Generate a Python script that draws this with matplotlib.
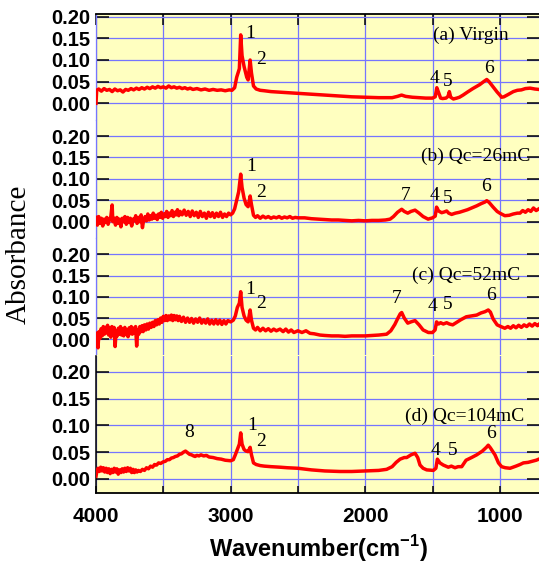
"""
Stacked FTIR absorbance spectra, virgin sample and three charge levels
"""
import numpy as np
import matplotlib
matplotlib.use("Agg")
import matplotlib.pyplot as plt
import matplotlib.ticker as plticker

# (wavenumber cm^-1, absorbance)
SPEC_A = [
    (4000, 0.000), (3995, 0.030), (3980, 0.033), (3960, 0.028), (3940, 0.034), (3920, 0.030),
    (3900, 0.032), (3880, 0.027), (3860, 0.033), (3840, 0.029), (3820, 0.031), (3800, 0.026),
    (3780, 0.032), (3760, 0.030), (3740, 0.034), (3720, 0.031), (3700, 0.035), (3680, 0.032),
    (3660, 0.036), (3640, 0.033), (3620, 0.037), (3600, 0.034), (3580, 0.038), (3560, 0.035),
    (3540, 0.039), (3520, 0.036), (3500, 0.038), (3480, 0.035), (3460, 0.040), (3440, 0.036),
    (3420, 0.038), (3400, 0.035), (3380, 0.037), (3360, 0.034), (3340, 0.036), (3320, 0.033),
    (3300, 0.035), (3280, 0.032), (3250, 0.034), (3220, 0.031), (3190, 0.033), (3160, 0.030),
    (3130, 0.032), (3100, 0.030), (3070, 0.031), (3040, 0.029), (3010, 0.031), (2990, 0.030),
    (2970, 0.036), (2955, 0.060), (2935, 0.080), (2925, 0.158), (2915, 0.110), (2900, 0.085),
    (2880, 0.060), (2870, 0.054), (2855, 0.100), (2845, 0.070), (2830, 0.040), (2810, 0.033),
    (2780, 0.030), (2750, 0.029), (2700, 0.027), (2650, 0.026), (2600, 0.025), (2550, 0.024),
    (2500, 0.023), (2400, 0.021), (2300, 0.019), (2200, 0.017), (2100, 0.015), (2000, 0.014),
    (1900, 0.013), (1800, 0.013), (1760, 0.016), (1730, 0.019), (1700, 0.016), (1650, 0.014),
    (1600, 0.013), (1550, 0.012), (1500, 0.012), (1480, 0.015), (1468, 0.036), (1455, 0.025),
    (1440, 0.012), (1425, 0.011), (1400, 0.012), (1385, 0.016), (1375, 0.027), (1365, 0.014),
    (1345, 0.010), (1320, 0.012), (1300, 0.014), (1273, 0.019), (1240, 0.026), (1200, 0.034),
    (1150, 0.043), (1120, 0.050), (1097, 0.055), (1080, 0.050), (1050, 0.038), (1020, 0.026),
    (1000, 0.019), (987, 0.014), (970, 0.015), (940, 0.020), (900, 0.027), (870, 0.030),
    (840, 0.031), (810, 0.034), (775, 0.035), (740, 0.033), (710, 0.032),
]

SPEC_B = [
    (4000, 0.010), (3990, -0.008), (3980, 0.012), (3970, -0.004), (3960, 0.008), (3950, -0.010),
    (3940, 0.006), (3930, -0.002), (3920, 0.010), (3910, -0.006), (3900, 0.004), (3890, 0.012),
    (3880, 0.039), (3875, 0.000), (3865, 0.008), (3855, -0.008), (3845, 0.010), (3835, -0.004),
    (3825, 0.006), (3815, -0.012), (3805, 0.008), (3795, 0.000), (3785, 0.012), (3775, -0.006),
    (3765, 0.010), (3755, -0.002), (3745, 0.008), (3735, -0.010), (3725, 0.006), (3715, 0.002),
    (3705, 0.014), (3695, -0.004), (3685, 0.010), (3675, 0.000), (3665, 0.016), (3655, -0.014),
    (3645, 0.006), (3635, 0.012), (3625, 0.002), (3615, 0.018), (3605, 0.004), (3595, 0.014),
    (3585, 0.006), (3575, 0.020), (3565, 0.008), (3555, 0.015), (3545, 0.005), (3535, 0.018),
    (3525, 0.010), (3515, 0.022), (3505, 0.008), (3495, 0.018), (3485, 0.012), (3475, 0.024),
    (3465, 0.010), (3455, 0.020), (3445, 0.014), (3435, 0.026), (3425, 0.012), (3415, 0.022),
    (3405, 0.016), (3395, 0.028), (3385, 0.014), (3375, 0.024), (3360, 0.016), (3345, 0.027),
    (3330, 0.015), (3315, 0.024), (3300, 0.012), (3285, 0.025), (3270, 0.014), (3255, 0.022),
    (3240, 0.010), (3225, 0.024), (3210, 0.012), (3195, 0.020), (3180, 0.008), (3165, 0.022),
    (3150, 0.012), (3135, 0.021), (3120, 0.010), (3105, 0.020), (3090, 0.012), (3075, 0.022),
    (3060, 0.010), (3045, 0.018), (3030, 0.012), (3015, 0.020), (3000, 0.016), (2985, 0.020),
    (2970, 0.030), (2955, 0.050), (2940, 0.070), (2925, 0.111), (2915, 0.080), (2900, 0.055),
    (2885, 0.040), (2870, 0.035), (2855, 0.060), (2845, 0.040), (2830, 0.015), (2815, 0.010),
    (2800, 0.014), (2780, 0.008), (2760, 0.013), (2740, 0.009), (2720, 0.012), (2700, 0.008),
    (2680, 0.011), (2660, 0.009), (2640, 0.012), (2620, 0.008), (2600, 0.011), (2580, 0.009),
    (2560, 0.012), (2540, 0.008), (2520, 0.010), (2500, 0.009), (2450, 0.009), (2400, 0.007),
    (2350, 0.006), (2300, 0.005), (2250, 0.004), (2200, 0.004), (2150, 0.003), (2100, 0.002),
    (2050, 0.003), (2000, 0.002), (1950, 0.003), (1900, 0.003), (1850, 0.004), (1815, 0.006),
    (1790, 0.012), (1760, 0.022), (1729, 0.029), (1710, 0.024), (1684, 0.020), (1660, 0.024),
    (1630, 0.027), (1600, 0.020), (1570, 0.012), (1533, 0.006), (1500, 0.009), (1480, 0.013),
    (1470, 0.034), (1455, 0.025), (1432, 0.021), (1410, 0.023), (1395, 0.025), (1380, 0.020),
    (1358, 0.017), (1330, 0.020), (1300, 0.022), (1271, 0.025), (1240, 0.028), (1210, 0.032),
    (1172, 0.037), (1140, 0.042), (1110, 0.046), (1097, 0.049), (1080, 0.045), (1050, 0.034),
    (1020, 0.024), (1000, 0.020), (963, 0.014), (930, 0.015), (900, 0.018), (870, 0.020),
    (850, 0.020), (830, 0.026), (810, 0.022), (790, 0.028), (770, 0.024), (750, 0.032),
    (730, 0.026), (710, 0.030),
]

SPEC_C = [
    (4000, 0.005), (3992, 0.015), (3985, -0.020), (3978, 0.018), (3970, 0.002), (3962, 0.025),
    (3954, 0.008), (3946, 0.030), (3938, 0.012), (3930, 0.028), (3922, 0.015), (3914, 0.033),
    (3906, 0.010), (3898, 0.026), (3890, 0.005), (3882, 0.030), (3874, 0.014), (3866, 0.028),
    (3858, -0.017), (3850, 0.020), (3842, 0.008), (3834, 0.026), (3826, 0.012), (3818, 0.030),
    (3810, 0.010), (3802, 0.024), (3794, 0.008), (3786, 0.028), (3778, 0.012), (3770, 0.022),
    (3762, 0.006), (3754, 0.027), (3746, 0.013), (3738, 0.030), (3730, 0.012), (3722, 0.026),
    (3714, 0.015), (3706, 0.030), (3698, -0.016), (3690, 0.022), (3682, 0.012), (3674, 0.030),
    (3666, 0.018), (3658, 0.032), (3650, 0.018), (3640, 0.034), (3630, 0.022), (3620, 0.036),
    (3610, 0.024), (3600, 0.038), (3590, 0.028), (3580, 0.040), (3570, 0.030), (3560, 0.044),
    (3550, 0.034), (3540, 0.046), (3530, 0.036), (3520, 0.050), (3510, 0.040), (3500, 0.054),
    (3490, 0.044), (3480, 0.056), (3470, 0.044), (3460, 0.055), (3450, 0.046), (3440, 0.057),
    (3430, 0.044), (3420, 0.056), (3410, 0.046), (3400, 0.055), (3390, 0.044), (3380, 0.054),
    (3365, 0.042), (3350, 0.052), (3335, 0.040), (3320, 0.050), (3305, 0.040), (3290, 0.049),
    (3275, 0.038), (3260, 0.048), (3245, 0.040), (3230, 0.050), (3215, 0.038), (3200, 0.046),
    (3185, 0.038), (3170, 0.048), (3155, 0.036), (3140, 0.045), (3125, 0.036), (3110, 0.046),
    (3095, 0.036), (3080, 0.045), (3065, 0.035), (3050, 0.044), (3035, 0.036), (3020, 0.044),
    (3000, 0.041), (2980, 0.045), (2965, 0.055), (2950, 0.075), (2935, 0.085), (2925, 0.112),
    (2915, 0.075), (2900, 0.055), (2885, 0.045), (2870, 0.041), (2855, 0.069), (2845, 0.045),
    (2830, 0.026), (2815, 0.022), (2800, 0.028), (2780, 0.020), (2760, 0.026), (2740, 0.020),
    (2720, 0.025), (2700, 0.019), (2680, 0.024), (2660, 0.020), (2633, 0.024), (2610, 0.018),
    (2590, 0.024), (2570, 0.017), (2550, 0.022), (2530, 0.016), (2500, 0.020), (2470, 0.016),
    (2440, 0.020), (2410, 0.014), (2380, 0.013), (2336, 0.010), (2300, 0.009), (2250, 0.008),
    (2200, 0.008), (2150, 0.007), (2100, 0.008), (2050, 0.008), (2000, 0.008), (1950, 0.009),
    (1900, 0.010), (1841, 0.012), (1810, 0.020), (1780, 0.035), (1760, 0.048), (1740, 0.060),
    (1729, 0.063), (1710, 0.050), (1684, 0.038), (1660, 0.041), (1630, 0.044), (1600, 0.034),
    (1570, 0.022), (1531, 0.016), (1500, 0.016), (1481, 0.022), (1470, 0.041), (1455, 0.036),
    (1440, 0.039), (1420, 0.036), (1395, 0.039), (1375, 0.036), (1350, 0.034), (1320, 0.040),
    (1290, 0.046), (1249, 0.053), (1210, 0.055), (1172, 0.057), (1140, 0.062), (1110, 0.065),
    (1086, 0.069), (1070, 0.064), (1050, 0.048), (1020, 0.034), (1000, 0.031), (963, 0.026),
    (940, 0.030), (920, 0.026), (900, 0.032), (880, 0.027), (860, 0.033), (840, 0.028),
    (820, 0.034), (800, 0.030), (780, 0.036), (760, 0.031), (740, 0.037), (720, 0.032),
    (710, 0.035),
]

SPEC_D = [
    (4000, 0.005), (3995, 0.012), (3985, 0.020), (3975, 0.014), (3965, 0.022), (3955, 0.015),
    (3945, 0.021), (3935, 0.013), (3925, 0.020), (3915, 0.012), (3905, 0.019), (3895, 0.010),
    (3885, 0.018), (3875, 0.012), (3865, 0.020), (3855, 0.013), (3845, 0.019), (3835, 0.009),
    (3825, 0.017), (3815, 0.012), (3805, 0.019), (3795, 0.013), (3785, 0.020), (3775, 0.014),
    (3765, 0.021), (3755, 0.015), (3745, 0.020), (3735, 0.012), (3725, 0.018), (3715, 0.012),
    (3705, 0.017), (3695, 0.013), (3685, 0.016), (3670, 0.014), (3655, 0.018), (3640, 0.016),
    (3625, 0.021), (3610, 0.019), (3595, 0.024), (3580, 0.022), (3565, 0.027), (3550, 0.026),
    (3535, 0.030), (3520, 0.029), (3500, 0.032), (3485, 0.033), (3470, 0.036), (3455, 0.036),
    (3440, 0.039), (3425, 0.040), (3410, 0.042), (3395, 0.043), (3380, 0.046), (3365, 0.047),
    (3350, 0.050), (3335, 0.052), (3320, 0.049), (3305, 0.046), (3290, 0.045), (3275, 0.043),
    (3264, 0.042), (3250, 0.044), (3235, 0.043), (3220, 0.045), (3200, 0.043), (3180, 0.044),
    (3160, 0.041), (3130, 0.040), (3100, 0.038), (3070, 0.037), (3040, 0.035), (3000, 0.034),
    (2980, 0.036), (2965, 0.045), (2950, 0.055), (2935, 0.065), (2925, 0.086), (2915, 0.065),
    (2900, 0.055), (2885, 0.052), (2870, 0.051), (2855, 0.059), (2845, 0.045), (2830, 0.030),
    (2810, 0.027), (2780, 0.025), (2750, 0.024), (2700, 0.023), (2633, 0.022), (2580, 0.021),
    (2500, 0.020), (2400, 0.017), (2300, 0.015), (2187, 0.014), (2100, 0.014), (2000, 0.015),
    (1900, 0.016), (1841, 0.018), (1800, 0.023), (1770, 0.031), (1741, 0.037), (1710, 0.040),
    (1692, 0.040), (1660, 0.045), (1630, 0.048), (1610, 0.040), (1593, 0.026), (1570, 0.020),
    (1543, 0.017), (1494, 0.016), (1475, 0.020), (1464, 0.037), (1445, 0.030), (1420, 0.026),
    (1383, 0.022), (1360, 0.024), (1333, 0.021), (1310, 0.023), (1283, 0.023), (1251, 0.035),
    (1210, 0.040), (1172, 0.045), (1130, 0.052), (1100, 0.059), (1086, 0.063), (1070, 0.058),
    (1036, 0.045), (1010, 0.030), (987, 0.023), (960, 0.021), (924, 0.020), (880, 0.024),
    (850, 0.027), (825, 0.030), (790, 0.031), (760, 0.033), (730, 0.035), (710, 0.037),
]

SPECTRA = [SPEC_A, SPEC_B, SPEC_C, SPEC_D]
SAMPLE_NAMES = ["(a) Virgin", "(b) Qc=26mC", "(c) Qc=52mC", "(d) Qc=104mC"]
NAME_POS = [(1499, 0.158), (1588, 0.152), (1655, 0.151), (1704, 0.117)]
PEAK_LABELS = [
    [("1", 2856, 0.162), ("2", 2774, 0.100), ("4", 1489, 0.058), ("5", 1387, 0.050),
     ("6", 1080, 0.081)],
    [("1", 2848, 0.128), ("2", 2774, 0.068), ("7", 1699, 0.062), ("4", 1489, 0.062),
     ("5", 1387, 0.055), ("6", 1103, 0.083)],
    [("1", 2856, 0.118), ("2", 2774, 0.085), ("7", 1766, 0.096), ("4", 1499, 0.078),
     ("5", 1387, 0.083), ("6", 1065, 0.102)],
    [("8", 3307, 0.086), ("1", 2843, 0.099), ("2", 2774, 0.069), ("4", 1481, 0.053),
     ("5", 1350, 0.053), ("6", 1065, 0.084)],
]
Y_TICKS = [0.00, 0.05, 0.10, 0.15, 0.20]
X_RANGE = (4000, 709)

# layout in pixels: (panel top, panel bottom, y of 0.00, y of 0.20)
W_PX, H_PX = 539, 567
LEFT_PX, RIGHT_PX = 96, 539
PANEL_PX = [
    (14.0, 119.6, 103.3, 16.7),
    (119.6, 238.0, 221.7, 136.0),
    (238.0, 355.5, 339.3, 254.3),
    (355.5, 493.3, 479.0, 371.7),
]

BG_COLOR = "#ffffc0"
GRID_COLOR = "#7575ff"
LINE_COLOR = "#ff0000"


def main():
    plt.rcParams["font.family"] = "Liberation Sans"
    plt.rcParams["font.weight"] = "bold"
    plt.rcParams["mathtext.fontset"] = "custom"
    plt.rcParams["mathtext.rm"] = "Liberation Sans:bold"
    plt.rcParams["mathtext.bf"] = "Liberation Sans:bold"

    fig = plt.figure(figsize=(W_PX / 100, H_PX / 100), dpi=100)
    n = len(SPECTRA)
    for i in range(n):
        top, bot, y0, y20 = PANEL_PX[i]
        ax = fig.add_axes([LEFT_PX / W_PX, 1 - bot / H_PX,
                           (RIGHT_PX - LEFT_PX) / W_PX, (bot - top) / H_PX])
        per_px = 0.2 / (y0 - y20)
        ax.set_ylim(-(bot - y0) * per_px, 0.2 + (y20 - top) * per_px)
        ax.set_xlim(X_RANGE)
        ax.set_facecolor(BG_COLOR)

        data = np.array(SPECTRA[i])
        ax.plot(data[:, 0], data[:, 1], color=LINE_COLOR, lw=2.5, zorder=3)

        ax.text(NAME_POS[i][0], NAME_POS[i][1], SAMPLE_NAMES[i], ha="left", va="center",
                family="Liberation Serif", fontweight="normal", fontsize=14, zorder=4)
        for txt, wn, yv in PEAK_LABELS[i]:
            ax.text(wn, yv, txt, ha="center", va="center", family="Liberation Serif",
                    fontweight="normal", fontsize=14, zorder=4)

        style_panel(ax, i == 0, i == n - 1)

    fig.text(19 / W_PX, 1 - 254 / H_PX, "Absorbance", rotation=90, ha="center", va="center",
             family="Liberation Serif", fontweight="normal", fontsize=21)
    fig.text(318 / W_PX, 1 - 549 / H_PX, r"Wavenumber(cm$^{\mathbf{-1}}$)", ha="center",
             va="center", fontsize=17, fontweight="bold")
    fig.savefig("out.png", dpi=100)
    plt.close(fig)


def style_panel(ax, is_top, is_bottom):
    """
    grid, spines and ticks of one panel

    Parameters:
        ax: the axes object
        is_top: first panel, gets the top frame and top ticks
        is_bottom: last panel, gets the x axis labels
    """
    ax.set_yticks(Y_TICKS)
    ax.yaxis.set_major_formatter(plticker.FormatStrFormatter("%.2f"))
    ax.xaxis.set_major_locator(plticker.MultipleLocator(500))
    ax.xaxis.set_major_formatter(plticker.FuncFormatter(
        lambda v, p: "{:d}".format(int(round(v))) if round(v) % 1000 == 0 else ""))
    ax.grid(True, color=GRID_COLOR, lw=0.9, zorder=1)
    ax.set_axisbelow(True)

    ax.tick_params(axis="y", direction="in", length=9, width=1.1, color="black",
                   left=True, right=True, labelsize=14.5, pad=4.3)
    ax.tick_params(axis="x", direction="in", width=1.1, color="black",
                   top=is_top, bottom=is_bottom, labelbottom=is_bottom,
                   labelsize=15, pad=10, length=8 if is_top else 5)

    for side in ["top", "bottom", "left", "right"]:
        ax.spines[side].set_visible(False)
    ax.spines["left"].set_visible(True)
    ax.spines["left"].set_color("black" if is_bottom else GRID_COLOR)
    ax.spines["left"].set_linewidth(1.1 if is_bottom else 0.9)
    if is_top:
        ax.spines["top"].set_visible(True)
        ax.spines["top"].set_linewidth(1.3)
    if is_bottom:
        ax.spines["bottom"].set_visible(True)
        ax.spines["bottom"].set_linewidth(1.3)


if __name__ == "__main__":
    main()
